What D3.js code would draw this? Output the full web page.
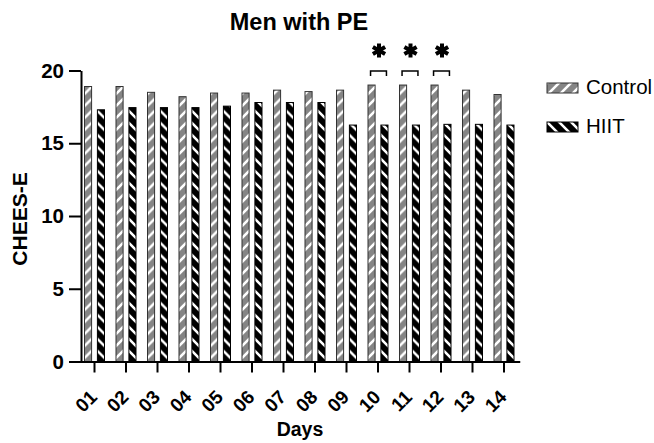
<!DOCTYPE html>
<html>
<head>
<meta charset="utf-8">
<script src="https://cdn.jsdelivr.net/npm/d3@7"></script>
<style>
  body { margin: 0; background: #fff; }
  text { font-family: "Liberation Sans", Arial, sans-serif; }
</style>
</head>
<body>
<div id="chart"></div>
<script>
const days = ["01","02","03","04","05","06","07","08","09","10","11","12","13","14"];
const series = ["Control", "HIIT"];
const controlValues = [18.9, 18.9, 18.5, 18.2, 18.45, 18.45, 18.65, 18.55, 18.65, 19.0, 19.0, 19.0, 18.65, 18.35];
const hiitValues = [17.3, 17.45, 17.45, 17.45, 17.55, 17.8, 17.8, 17.8, 16.25, 16.25, 16.25, 16.3, 16.3, 16.25];
const significantDays = ["10", "11", "12"];
const yTicks = [0, 5, 10, 15, 20];

const width = 654, height = 443;
const font = "Liberation Sans, Arial, sans-serif";

const svg = d3.select("#chart")
  .append("svg")
  .attr("width", width)
  .attr("height", height);

// hatch patterns
const defs = svg.append("defs");
function hatch(id, base, dir) {
  const p = defs.append("pattern")
    .attr("id", id)
    .attr("patternUnits", "userSpaceOnUse")
    .attr("width", 12)
    .attr("height", 12);
  p.append("rect").attr("width", 12).attr("height", 12).attr("fill", base);
  p.append("path")
    .attr("d", dir === "up"
      ? "M-3,3 l6,-6 M0,12 l12,-12 M9,15 l6,-6"
      : "M-3,9 l6,6 M0,0 l12,12 M9,-3 l6,6")
    .attr("stroke", "#fff")
    .attr("stroke-width", 2.6);
}
hatch("hatch-control", "#858585", "up");
hatch("hatch-hiit", "#000", "down");

const fills = { Control: "url(#hatch-control)", HIIT: "url(#hatch-hiit)" };
const strokes = { Control: "#333", HIIT: "#000" };

const x = d3.scaleBand().domain(days).range([78.75, 519.75]);
const xs = d3.scaleBand().domain(series).range([-10, 10]).paddingInner(0.45);
const y = d3.scaleLinear().domain([0, 20]).range([361.5, 70.5]);

const rows = days.map((d, i) => ({ day: d, Control: controlValues[i], HIIT: hiitValues[i] }));

// bars
const groups = svg.append("g")
  .selectAll("g")
  .data(rows)
  .join("g")
  .attr("transform", (d) => `translate(${x(d.day) + x.bandwidth() / 2},0)`);

groups.selectAll("rect")
  .data((d) => series.map((s) => ({ key: s, value: d[s] })))
  .join("rect")
  .attr("x", (d) => xs(d.key))
  .attr("width", xs.bandwidth())
  .attr("y", (d) => y(d.value))
  .attr("height", (d) => y(0) - y(d.value))
  .attr("fill", (d) => fills[d.key])
  .attr("stroke", (d) => strokes[d.key])
  .attr("stroke-width", 1);

// significance brackets + asterisks
const sig = svg.append("g")
  .selectAll("g")
  .data(significantDays)
  .join("g")
  .attr("transform", (d) => `translate(${x(d) + x.bandwidth() / 2},0)`);

sig.append("path")
  .attr("d", () => {
    const x1 = xs("Control") + xs.bandwidth() / 2 - 1;
    const x2 = xs("HIIT") + xs.bandwidth() / 2 + 2;
    return `M${x1},76 V71 H${x2} V76`;
  })
  .attr("fill", "none")
  .attr("stroke", "#000")
  .attr("stroke-width", 1.5);

sig.append("path")
  .attr("transform", "translate(1,50.5)")
  .attr("d", d3.symbol(d3.symbolAsterisk, 140))
  .attr("fill", "none")
  .attr("stroke", "#000")
  .attr("stroke-width", 4);

// y axis
const yAxis = svg.append("g")
  .attr("transform", "translate(81,0)")
  .call(d3.axisLeft(y).tickValues(yTicks).tickSize(12).tickSizeOuter(0).tickPadding(5));
yAxis.select(".domain").attr("stroke-width", 2);
yAxis.selectAll(".tick line").attr("stroke-width", 2);
yAxis.selectAll(".tick text")
  .attr("font-size", 20.5)
  .attr("font-weight", "bold")
  .attr("font-family", font)
  .attr("fill", "#000");

// x axis
const xAxis = svg.append("g")
  .attr("transform", `translate(0,${y(0)})`)
  .call(d3.axisBottom(x).tickSize(11).tickSizeOuter(0));
xAxis.select(".domain").attr("stroke-width", 2);
xAxis.selectAll(".tick line").attr("stroke-width", 2);
xAxis.selectAll(".tick text")
  .attr("font-size", 19)
  .attr("font-weight", "bold")
  .attr("font-family", font)
  .attr("fill", "#000")
  .attr("text-anchor", "end")
  .attr("x", 0)
  .attr("y", 0)
  .attr("dy", "0.35em")
  .attr("transform", "translate(-1,32) rotate(-45)");

// titles
svg.append("text")
  .attr("x", 299)
  .attr("y", 30)
  .attr("text-anchor", "middle")
  .attr("font-size", 23.5)
  .attr("font-weight", "bold")
  .text("Men with PE");

svg.append("text")
  .attr("x", 300)
  .attr("y", 436)
  .attr("text-anchor", "middle")
  .attr("font-size", 19.5)
  .attr("font-weight", "bold")
  .text("Days");

svg.append("text")
  .attr("transform", "translate(27,219) rotate(-90)")
  .attr("text-anchor", "middle")
  .attr("font-size", 21)
  .attr("font-weight", "bold")
  .text("CHEES-E");

// legend
const legend = svg.append("g")
  .selectAll("g")
  .data(series)
  .join("g")
  .attr("transform", (d, i) => `translate(547,${83 + i * 39})`);

legend.append("rect")
  .attr("width", 31)
  .attr("height", 10)
  .attr("fill", (d) => fills[d])
  .attr("stroke", (d) => strokes[d])
  .attr("stroke-width", 1);

legend.append("text")
  .attr("x", 39)
  .attr("y", 10.5)
  .attr("font-size", 20.5)
  .text((d) => d);
</script>
</body>
</html>
